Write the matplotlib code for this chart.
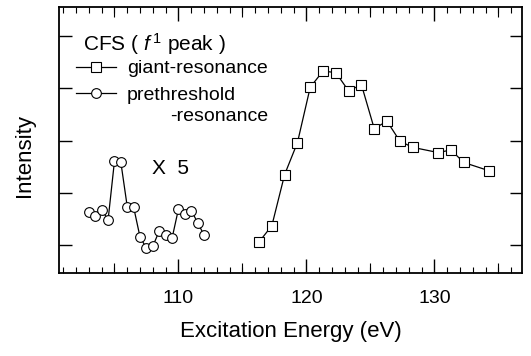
import matplotlib
matplotlib.use("Agg")
import matplotlib.pyplot as plt
from matplotlib.ticker import MultipleLocator, NullFormatter

plt.rcParams['font.family'] = ['Liberation Sans', 'DejaVu Sans']
plt.rcParams['mathtext.fontset'] = 'custom'
plt.rcParams['mathtext.rm'] = 'Liberation Sans'
plt.rcParams['mathtext.it'] = 'Liberation Sans:italic'

# prethreshold resonance (x5)
pre_x = [103.0, 103.5, 104.0, 104.5, 105.0, 105.5, 106.0, 106.5, 107.0, 107.5,
         108.0, 108.5, 109.0, 109.5, 110.0, 110.5, 111.0, 111.5, 112.0]
pre_y = [1.64, 1.56, 1.68, 1.48, 2.61, 2.58, 1.73, 1.72, 1.15, 0.94,
         0.98, 1.27, 1.19, 1.13, 1.69, 1.59, 1.66, 1.43, 1.19]

# giant resonance
giant_x = [116.3, 117.3, 118.3, 119.3, 120.3, 121.3, 122.3, 123.3, 124.3,
           125.3, 126.3, 127.3, 128.3, 130.3, 131.3, 132.3, 134.3]
giant_y = [1.06, 1.37, 2.35, 2.96, 4.02, 4.33, 4.30, 3.95, 4.07,
           3.23, 3.37, 2.99, 2.87, 2.77, 2.82, 2.58, 2.42]

x_labels = [110, 120, 130]
mid_ticks = [105, 115, 125, 135]
y_ticks = [1, 2, 3, 4, 5]

fig = plt.figure(figsize=(5.31, 3.56), dpi=100)
ax = fig.add_axes([0.112, 0.233, 0.871, 0.7487])

ax.plot(giant_x, giant_y, '-', color='black', lw=0.9, marker='s', ms=6.5,
        mfc='white', mec='black', mew=0.8, label='giant-resonance')
ax.plot(pre_x, pre_y, '-', color='black', lw=0.9, marker='o', ms=7,
        mfc='white', mec='black', mew=0.8, label='prethreshold')

ax.set_xlim(100.7, 136.85)
ax.set_ylim(0.464, 5.565)

ax.set_xticks(x_labels)
ax.xaxis.set_minor_locator(MultipleLocator(1))
ax.set_yticks(y_ticks)
ax.yaxis.set_major_formatter(NullFormatter())
ax.tick_params(which='major', axis='x', direction='in', length=10, width=1,
               top=True, labelsize=14, pad=12)
ax.tick_params(which='minor', axis='x', direction='in', length=4, width=0.8, top=True)
ax.tick_params(which='major', axis='y', direction='in', length=9, width=1, right=True)

for loc in ['bottom', 'top']:
    sec = ax.secondary_xaxis(loc)
    sec.set_xticks(mid_ticks)
    sec.tick_params(direction='in', length=7, width=0.8, labelbottom=False,
                    labeltop=False)
    sec.spines[loc].set_visible(False)

for s in ax.spines.values():
    s.set_linewidth(1.3)

ax.set_xlabel('Excitation Energy (eV)', fontsize=16, labelpad=10)
ax.set_ylabel('Intensity', fontsize=16)
ax.yaxis.set_label_coords(-0.052, 0.44)

ax.text(0.051, 0.833, r'CFS ( $\mathit{f}^{\,\mathrm{1}}$ peak )', transform=ax.transAxes,
        fontsize=15, va='baseline', ha='left')
ax.legend(loc='upper left', bbox_to_anchor=(0.035, 0.80), frameon=False,
          fontsize=14, handlelength=2.05, handletextpad=0.6, labelspacing=0.46,
          borderpad=0, borderaxespad=0)
ax.text(0.239, 0.57, '-resonance', transform=ax.transAxes, fontsize=14,
        va='baseline', ha='left')
ax.text(0.24, 0.394, 'X  5', transform=ax.transAxes, fontsize=15,
        va='center', ha='center')

fig.savefig('out.png', dpi=100)
